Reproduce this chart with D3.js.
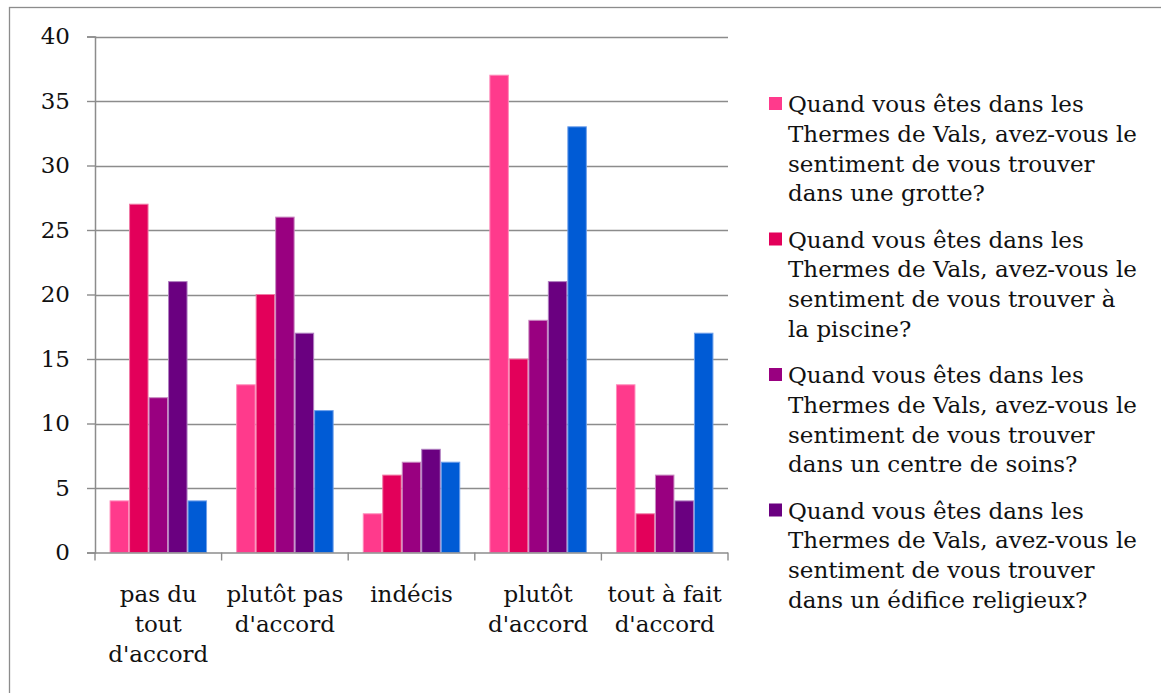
<!DOCTYPE html>
<html><head><meta charset="utf-8">
<script src="https://cdn.jsdelivr.net/npm/d3@7"></script>
<style>
html,body{margin:0;padding:0;background:#fff;}
svg{display:block;}
text{font-family:"DejaVu Serif",serif;fill:#111;}
</style></head>
<body>
<svg id="c" width="1161" height="693"></svg>
<script>
const categories = ["pas du tout d'accord","plutôt pas d'accord","indécis","plutôt d'accord","tout à fait d'accord"];
const categoryLines = [["pas du","tout","d'accord"],["plutôt pas","d'accord"],["indécis"],["plutôt","d'accord"],["tout à fait","d'accord"]];
const seriesGrotte   = [4, 13, 3, 37, 13];
const seriesPiscine  = [27, 20, 6, 15, 3];
const seriesSoins    = [12, 26, 7, 18, 6];
const seriesReligieux= [21, 17, 8, 21, 4];
const seriesBleu     = [4, 11, 7, 33, 17];
const seriesColors = ["#ff3a8c","#e3005a","#990080","#6a0080","#005bd5"];
const seriesStroke = ["#ff8cbb","#f07aa6","#c98ac0","#b07fc0","#6fa0ea"];
const legendLines = [
 ["Quand vous êtes dans les","Thermes de Vals, avez-vous le","sentiment de vous trouver","dans une grotte?"],
 ["Quand vous êtes dans les","Thermes de Vals, avez-vous le","sentiment de vous trouver à","la piscine?"],
 ["Quand vous êtes dans les","Thermes de Vals, avez-vous le","sentiment de vous trouver","dans un centre de soins?"],
 ["Quand vous êtes dans les","Thermes de Vals, avez-vous le","sentiment de vous trouver","dans un édifice religieux?"]
];
const yTicks = [0,5,10,15,20,25,30,35,40];

(function(){
const allSeries = [seriesGrotte, seriesPiscine, seriesSoins, seriesReligieux, seriesBleu];
const svg = d3.select("#c");
const grid = "#8c8c8c";
const FS = 23;

svg.append("rect").attr("x",9.5).attr("y",7.5).attr("width",1300).attr("height",900)
  .attr("fill","none").attr("stroke",grid).attr("stroke-width",1.3);

const pL = 95, pR = 728, pT = 36.5, pB = 552.5;
const y = d3.scaleLinear().domain([0,40]).range([pB, pT]);
const x0 = d3.scaleBand().domain(categories).range([pL, pR]).padding(0);
const bw = x0.bandwidth();
const x1 = d3.scaleBand().domain(d3.range(allSeries.length)).range([bw*0.115, bw*0.885]).padding(0);

svg.append("g").selectAll("line").data(yTicks.filter(d=>d>0)).join("line")
  .attr("x1", pL).attr("x2", pR)
  .attr("y1", d=>Math.round(y(d))+0.5).attr("y2", d=>Math.round(y(d))+0.5)
  .attr("stroke", grid).attr("stroke-width",1.4);

const groups = svg.append("g").selectAll("g").data(categories).join("g")
  .attr("transform", c=>`translate(${x0(c)},0)`);
groups.selectAll("rect").data((c,i)=>allSeries.map((s,k)=>({k, v:s[i]}))).join("rect")
  .attr("x", d=>x1(d.k)+0.5).attr("width", x1.bandwidth()-1)
  .attr("y", d=>y(d.v)).attr("height", d=>pB - y(d.v))
  .attr("fill", d=>seriesColors[d.k]).attr("stroke", d=>seriesStroke[d.k]).attr("stroke-width",1);

const ya = svg.append("g").attr("transform",`translate(${pL},0)`)
  .call(d3.axisLeft(y).tickValues(yTicks).tickSize(8).tickPadding(17).tickFormat(d3.format("d")));
ya.select(".domain").attr("stroke",grid).attr("stroke-width",1.5);
ya.selectAll(".tick line").attr("stroke",grid).attr("stroke-width",1.4);
ya.selectAll(".tick text").style("font-family","DejaVu Serif").style("font-size",FS+"px").attr("fill","#111");

svg.append("line").attr("x1",pL).attr("x2",pR).attr("y1",pB+0.5).attr("y2",pB+0.5)
  .attr("stroke",grid).attr("stroke-width",1.5);
const bounds = categories.map(c=>x0(c)).concat([x0(categories[categories.length-1])+bw]);
svg.append("g").selectAll("line").data(bounds).join("line")
  .attr("x1",d=>d).attr("x2",d=>d).attr("y1",pB).attr("y2",pB+8)
  .attr("stroke",grid).attr("stroke-width",1.4);
const xl = svg.append("g").selectAll("text").data(categories).join("text")
  .attr("x", c=>x0(c)+bw/2).attr("y", 602)
  .attr("text-anchor","middle").style("font-size",FS+"px");
xl.each(function(c,i){
  d3.select(this).selectAll("tspan").data(categoryLines[i]).join("tspan")
    .attr("x", x0(c)+bw/2).attr("dy",(d,j)=>j===0?0:30).text(d=>d);
});

const lg = svg.append("g").selectAll("g").data(legendLines).join("g")
  .attr("transform",(d,i)=>`translate(769,${112 + i*135.5})`);
lg.append("rect").attr("x",0).attr("y",-15).attr("width",13).attr("height",13)
  .attr("fill",(d,i)=>seriesColors[i]);
lg.append("text").attr("x",19).attr("y",0).style("font-size",FS+"px")
  .selectAll("tspan").data(d=>d).join("tspan").attr("x",19).attr("dy",(d,j)=>j===0?0:29.8).text(d=>d);
})();
</script>
</body></html>
